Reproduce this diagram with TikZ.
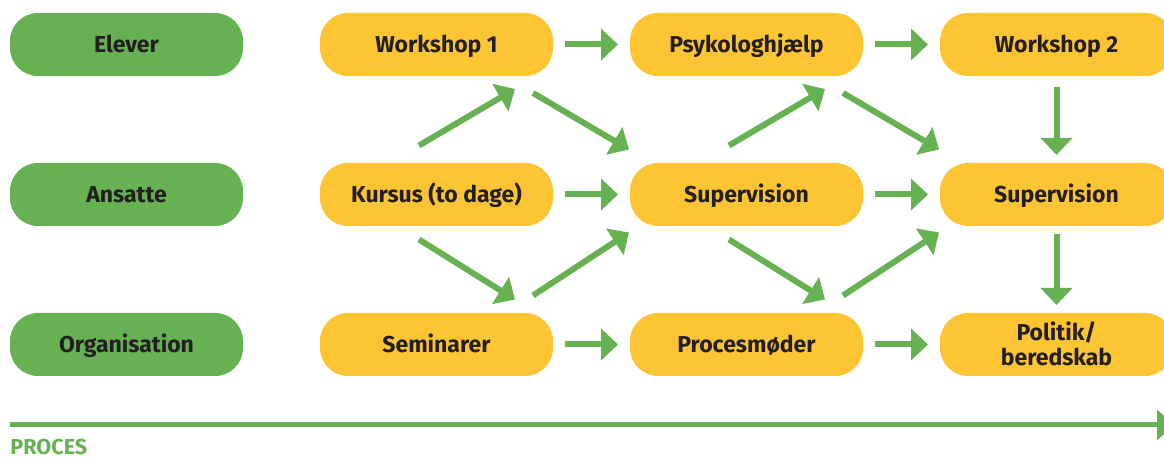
\documentclass[tikz,border=0pt]{standalone}
\usepackage{fontspec}
\setmainfont{Fira Sans}
\usetikzlibrary{arrows.meta,positioning}
\definecolor{levelgreen}{RGB}{102,177,82}
\definecolor{stepyellow}{RGB}{253,196,51}
\definecolor{boxtext}{RGB}{35,31,32}

\begin{document}
\begin{tikzpicture}
    [x=0.5pt,y=-0.5pt,
    node distance=43.5pt and 38.5pt,
    level/.style={rectangle,rounded corners=14pt,fill=levelgreen,text=boxtext,
                  inner sep=0pt,outer sep=0pt,minimum width=116.5pt,minimum height=31.5pt,
                  text height=9.5pt,text depth=1.1pt,
                  font=\bfseries\fontsize{11.5}{12.5}\selectfont},
    activity/.style={level,fill=stepyellow,align=center},
    pre/.style={{Triangle[length=8.5pt,width=15.5pt]}-,draw=levelgreen,line width=3pt,
                shorten <=6pt,shorten >=6pt},
    post/.style={-{Triangle[length=8.5pt,width=15.5pt]},draw=levelgreen,line width=3pt,
                 shorten <=6pt,shorten >=6pt},
    diag/.style={post,shorten <=0pt,shorten >=0pt}]

    \useasboundingbox (0,0) rectangle (1164,458);

    % levels
    \node[level] (elever) at (126.5,44.5) {Elever};
    \node[level] (ansatte) [below=of elever] {Ansatte};
    \node[level] (organisation) [below=of ansatte] {Organisation};

    % first column
    \node[activity] (workshop1) [right=of elever] {Workshop 1};
    \node[activity] (kursus) [right=of ansatte] {Kursus (to dage)};
    \node[activity] (seminarer) [right=of organisation] {Seminarer};

    % second column
    \node[activity] (psykolog) [right=of workshop1] {Psykologhjælp}
        edge[pre] (workshop1);
    \node[activity] (supervision1) [right=of kursus] {Supervision}
        edge[pre] (kursus);
    \node[activity] (procesmoeder) [right=of seminarer] {Procesmøder}
        edge[pre] (seminarer);

    % third column
    \node[activity] (workshop2) [right=of psykolog] {Workshop 2}
        edge[pre] (psykolog);
    \node[activity] (supervision2) [right=of supervision1] {Supervision}
        edge[pre] (supervision1)
        edge[pre,shorten <=4pt,shorten >=5.5pt] (workshop2);
    \node[activity,text height=22.3pt,text depth=1.1pt] (politik) [right=of procesmoeder]
        {Politik/\\beredskab}
        edge[pre] (procesmoeder)
        edge[pre,shorten <=4pt,shorten >=4pt] (supervision2);

    % cross arrows
    \draw[diag] ([shift={(-17.5,-17.5)}]kursus.north) -- ([shift={(-38,13)}]workshop1.south east);
    \draw[diag] ([shift={(-20,17)}]workshop1.south east) -- ([shift={(-1,-13.5)}]supervision1.north west);
    \draw[diag] ([shift={(-17.5,13.5)}]kursus.south) -- ([shift={(-38,-13.5)}]seminarer.north east);
    \draw[diag] ([shift={(-20,-17.5)}]seminarer.north east) -- ([shift={(-1,6.5)}]supervision1.south west);

    \draw[diag] ([shift={(-17.5,-17.5)}]supervision1.north) -- ([shift={(-38,13)}]psykolog.south east);
    \draw[diag] ([shift={(-20,17)}]psykolog.south east) -- ([shift={(-1,-13.5)}]supervision2.north west);
    \draw[diag] ([shift={(-17.5,13.5)}]supervision1.south) -- ([shift={(-38,-13.5)}]procesmoeder.north east);
    \draw[diag] ([shift={(-20,-17.5)}]procesmoeder.north east) -- ([shift={(-1,6.5)}]supervision2.south west);

    % process axis
    \coordinate (proces start) at (10,425);
    \coordinate (proces end) at (1174,425);
    \draw[-{Triangle[length=8.5pt,width=15pt]},draw=levelgreen,line width=2.5pt]
        (proces start) -- (proces end);
    \node[anchor=base west,inner sep=0pt,text=levelgreen,
          font=\bfseries\fontsize{10.8}{12}\selectfont] (proces) at (10,455) {PROCES};
\end{tikzpicture}
\end{document}
